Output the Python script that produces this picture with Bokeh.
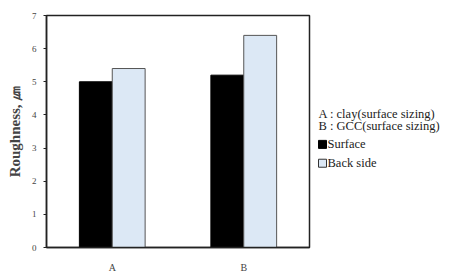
from bokeh.plotting import figure
from bokeh.models import ColumnDataSource, FactorRange, Range1d
from bokeh.transform import dodge
from bokeh.layouts import row
from bokeh.core.properties import value
from bokeh.embed import file_html
from bokeh.resources import INLINE

samples = ["A", "B"]
surface = [5.0, 5.2]
back_side = [5.4, 6.4]
y_ticks = [0, 1, 2, 3, 4, 5, 6, 7]
notes = ["A : clay(surface sizing)", "B : GCC(surface sizing)"]
series_names = ["Surface", "Back side"]

SURF_FILL, SURF_LINE = "black", "black"
BACK_FILL, BACK_LINE = "#dce8f5", "#555555"

src = ColumnDataSource(dict(x=samples, surface=surface, back=back_side))

p = figure(width=311, height=275, output_backend="svg", toolbar_location=None,
           x_range=FactorRange(*samples, range_padding=0), y_range=Range1d(0, 7),
           min_border_left=46, min_border_right=2, min_border_top=15, min_border_bottom=26)
p.xgrid.visible = False
p.ygrid.visible = False
p.outline_line_color = "#222222"
p.outline_line_width = 1.5

p.vbar(x=dodge("x", -0.125, range=p.x_range), top="surface", width=0.25, source=src,
       fill_color=SURF_FILL, line_color=SURF_LINE, line_width=1)
p.vbar(x=dodge("x", 0.125, range=p.x_range), top="back", width=0.25, source=src,
       fill_color=BACK_FILL, line_color=BACK_LINE, line_width=1)

p.yaxis.ticker = y_ticks
p.yaxis.axis_line_color = "#222222"
p.yaxis.axis_line_width = 1.5
p.yaxis.major_tick_in = 0
p.yaxis.major_tick_out = 3
p.yaxis.major_tick_line_color = "#222222"
p.yaxis.minor_tick_line_color = None
p.yaxis.major_label_text_font = "Liberation Serif"
p.yaxis.major_label_text_font_size = "9px"
p.yaxis.major_label_text_color = "#444444"
p.yaxis.major_label_standoff = 7
p.yaxis.axis_label = "Roughness, ㎛"
p.yaxis.axis_label_text_font = "Liberation Serif"
p.yaxis.axis_label_text_font_style = "bold"
p.yaxis.axis_label_text_font_size = "15px"
p.yaxis.axis_label_standoff = 6

p.xaxis.axis_line_color = "#222222"
p.xaxis.axis_line_width = 1.5
p.xaxis.major_tick_line_color = None
p.xaxis.minor_tick_line_color = None
p.xaxis.major_label_text_font = "Liberation Serif"
p.xaxis.major_label_text_font_size = "10px"
p.xaxis.major_label_text_color = "#444444"
p.xaxis.major_label_standoff = 8

# side panel holding the notes and the legend; its frame is aligned with p's frame
# (y 15..249 on the page, x 311..450), so ranges are set to page pixels
q = figure(width=139, height=275, output_backend="svg", toolbar_location=None,
           title=None, x_range=Range1d(311, 450), y_range=Range1d(249, 15),
           x_axis_location=None, y_axis_location=None,
           min_border_left=0, min_border_right=0, min_border_top=0, min_border_bottom=0,
           outline_line_color=None)
q.grid.visible = False
q.text(x=[318, 318], y=[114, 126], text=notes, text_font=value("Liberation Serif"),
       text_font_size="12.5px", text_color="#222222", text_baseline="middle")

q.scatter(x=[322, 322], y=[145, 164], marker="square", size=8,
          fill_color=[SURF_FILL, BACK_FILL], line_color=[SURF_LINE, "#333333"], line_width=1)
q.text(x=[327, 327], y=[145, 164], text=series_names, text_font=value("Liberation Serif"),
       text_font_size="12.5px", text_color="#222222", text_baseline="middle")

open("out.html", "w").write(file_html(row(p, q, spacing=0), INLINE))
